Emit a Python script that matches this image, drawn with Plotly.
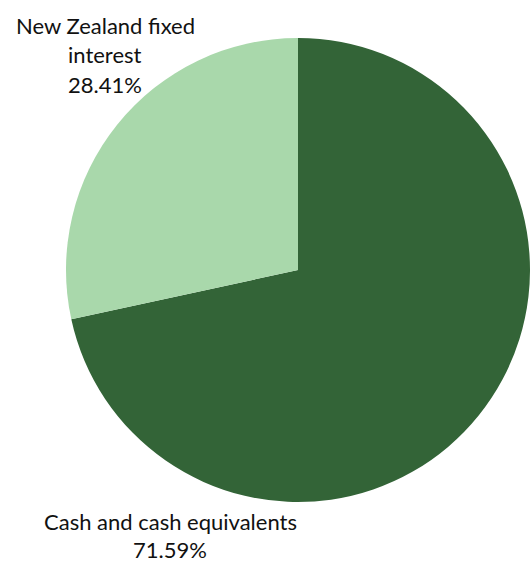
import plotly.graph_objects as go

labels = ["Cash and cash equivalents", "New Zealand fixed interest"]
values = [71.59, 28.41]
label_lines = [["Cash and cash equivalents"], ["New Zealand fixed", "interest"]]
colors = ["#336437", "#A9D8AB"]

W, H = 530, 564
cx, cy, r = 298, 270, 232

fig = go.Figure(go.Pie(
    labels=labels, values=values, sort=False, direction="clockwise", rotation=0,
    marker=dict(colors=colors, line=dict(width=0)),
    textinfo="none", hoverinfo="label+percent", showlegend=False,
    domain=dict(x=[(cx - r) / W, min(1.0, (cx + r) / W)],
                y=[(H - cy - r) / H, (H - cy + r) / H]),
))

font = dict(family="Lato, Open Sans, sans-serif", size=22, color="#111111")
# label positions (pixels from top) and line spacing for each slice
label_pos = [(170, 521, 28), (105, 25, 30)]
annotations = []
for lines, v, (x, y0, dy) in zip(label_lines, values, label_pos):
    all_lines = lines + [f"{v:.2f}%"]
    for i, t in enumerate(all_lines):
        annotations.append(dict(text=t, x=x / W, y=1 - (y0 + dy * i) / H,
                                xref="paper", yref="paper", showarrow=False,
                                xanchor="center", yanchor="middle", borderpad=0,
                                font=font))

fig.update_layout(width=W, height=H, margin=dict(l=0, r=0, t=0, b=0),
                  paper_bgcolor="white", plot_bgcolor="white",
                  annotations=annotations)
fig.write_html("out.html", config={"displayModeBar": False},
               post_script="document.body.style.margin='0';")
